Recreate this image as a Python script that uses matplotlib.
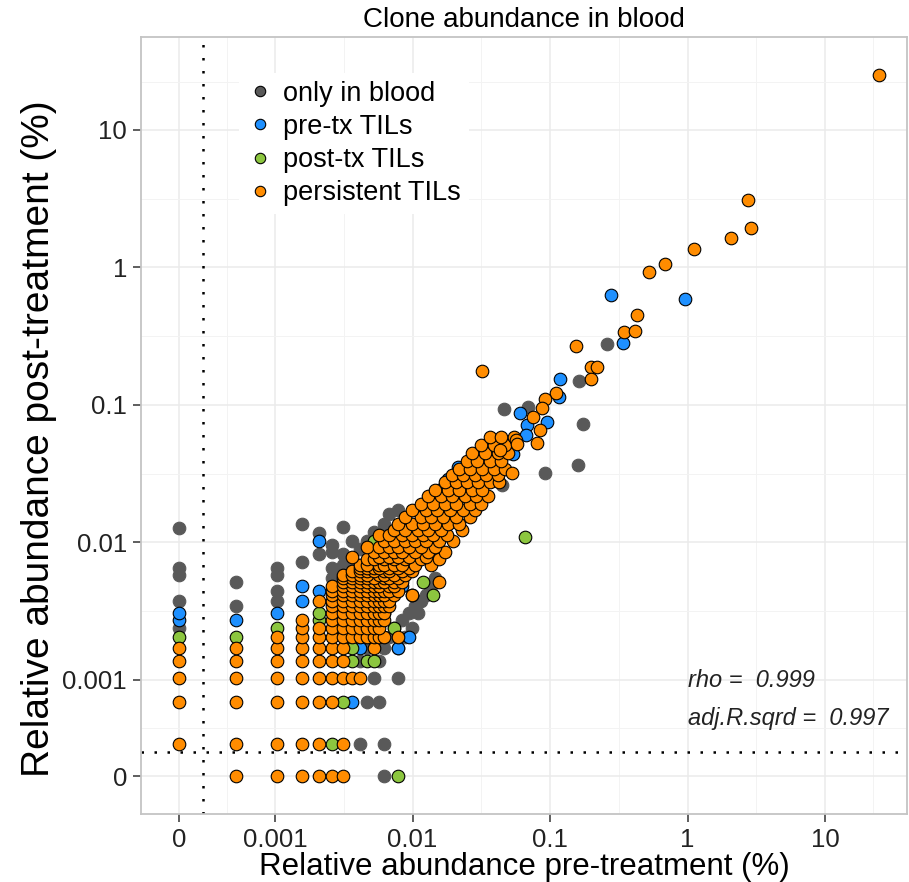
import matplotlib.pyplot as plt
from matplotlib.lines import Line2D
import numpy as np

plt.rcParams['font.family'] = ['Liberation Sans', 'DejaVu Sans']

# read counts -> percent of repertoire
PRE_UNIT = 0.00052     # % per read, pre-treatment blood
POST_UNIT = 0.000343   # % per read, post-treatment blood
ZERO = 0.0002          # where a count of 0 is drawn

groups = ['only in blood', 'pre-tx TILs', 'post-tx TILs', 'persistent TILs']
colors = ['#595959', '#1e90ff', '#8cc63f', '#ff8c00']

# (pre count, post count)
only_blood = [(0, 7), (0, 11), (0, 17), (0, 19), (0, 37), (1, 10), (1, 15),
              (2, 11), (2, 13), (2, 17), (2, 19), (3, 21), (3, 40), (4, 24), (4, 34),
              (5, 25), (5, 19), (5, 16), (6, 38), (6, 20), (6, 14),
              (8, 1), (9, 2), (10, 3), (11, 2), (12, 1), (12, 0), (15, 3),
              (8, 4), (9, 5), (11, 4), (12, 5), (13, 6), (14, 7), (16, 8), (18, 9),
              (20, 10), (22, 11), (17, 6), (19, 7), (24, 12), (26, 14), (28, 16),
              (21, 9), (15, 5), (7, 22), (8, 26), (9, 30), (10, 35), (12, 40),
              (13, 47), (15, 50), (17, 45), (7, 30), (5, 28), (6, 24), (10, 25), (11, 30),
              (501, 810), (312, 438), (89, 273), (132, 281), (332, 212), (309, 107),
              (177, 94), (86, 76)]

pre_tils = [(0, 8), (0, 9), (1, 8), (2, 9), (3, 11), (3, 14), (4, 13), (4, 30),
            (7, 2), (8, 5), (15, 5), (18, 6), (17, 36), (21, 49), (25, 60), (30, 70),
            (35, 85), (45, 95), (20, 30), (13, 22), (11, 25), (40, 55), (60, 90),
            (70, 120), (75, 100), (22, 40), (28, 33), (16, 14), (19, 12),
            (534, 1840), (1842, 1720), (649, 819), (227, 453), (225, 335), (116, 256),
            (182, 220), (131, 209), (129, 176), (98, 145), (103, 128), (55, 128),
            (41, 103), (56, 109)]

post_tils = [(0, 6), (1, 6), (2, 7), (4, 8), (4, 9), (5, 1), (6, 2), (7, 4), (7, 5),
             (9, 4), (10, 4), (14, 7), (15, 0), (11, 13), (10, 30), (37, 72), (36, 71),
             (127, 32), (27, 12), (23, 15), (9, 10), (12, 9), (20, 22), (30, 40)]

# persistent clones in the crowded low corner: (post count, [pre counts])
persistent_rows = [(0, [1, 2, 3, 4, 5, 6]), (1, [0, 1, 2, 3, 4, 6]), (2, [0, 1, 2, 3, 4, 5]),
                   (3, [0, 1, 2, 3, 4, 5, 6, 7, 8]), (4, [0, 1, 2, 3, 4, 5, 6]),
                   (5, [0, 1, 2, 3, 4, 5, 6, 10]), (6, [2, 3, 4, 5, 6, 7, 8, 9, 10, 11, 12, 15]),
                   (7, [3, 4, 5, 6, 7, 8, 9, 10, 11]), (8, [3, 5, 6, 7, 8, 9, 10, 11, 12]),
                   (9, [5, 6, 7, 8, 9, 10, 11, 12]), (10, [5, 6, 7, 8, 9, 10, 11, 12, 13]),
                   (11, [4, 5, 6, 7, 8, 9, 10, 11, 12, 13]), (12, [5, 6, 7, 8, 9, 10, 11, 12, 14, 19]),
                   (13, [5, 6, 7, 8, 9, 10, 11, 12, 13, 15]), (14, [5, 6, 7, 8, 9, 10, 11, 13, 14]),
                   (15, [6, 7, 8, 9, 10, 11, 12, 14, 16, 30]), (16, [6, 7, 8, 9, 10, 12, 13, 15]),
                   (17, [6, 7, 8, 9, 11, 12, 14, 17]), (18, [7, 8, 9, 10, 12, 13, 16, 19]),
                   (19, [8, 9, 10, 11, 13, 15, 18]), (20, [8, 9, 11, 12, 14, 16, 20, 26]),
                   (22, [9, 10, 12, 14, 17, 22, 30]), (23, [7, 11, 13, 15, 18, 24]),
                   (25, [10, 12, 14, 16, 20, 25, 33]), (27, [9, 11, 13, 15, 18, 22, 28]),
                   (30, [12, 14, 17, 20, 24, 30, 38]), (33, [11, 13, 16, 19, 23, 27, 34]),
                   (36, [14, 17, 21, 25, 31, 44]), (40, [15, 19, 23, 28, 35, 42]),
                   (45, [17, 22, 26, 32, 40, 50]), (50, [19, 24, 29, 36, 45, 55]),
                   (56, [22, 27, 33, 40, 50, 60]), (63, [25, 31, 37, 46, 56, 68]),
                   (70, [28, 35, 42, 52, 62]), (80, [33, 40, 48, 58, 70, 82]),
                   (90, [37, 45, 55, 66, 80]), (100, [42, 50, 62, 75, 90]),
                   (115, [48, 57, 70, 85]), (130, [52, 65, 80, 95]), (150, [60, 75, 90]),
                   (170, [70, 85, 105])]

persistent_big = [(47700, 73200), (5320, 9030), (5540, 5620), (3960, 4800), (2140, 3980),
                  (1320, 3090), (1008, 2705), (820, 1316), (663, 985), (802, 1012),
                  (297, 787), (62, 515), (380, 548), (420, 548), (380, 453), (212, 358),
                  (177, 321), (167, 276), (145, 237), (163, 192), (109, 162), (110, 152),
                  (155, 153), (83, 137), (101, 94)]

persistent = [(k, m) for m, ks in persistent_rows for k in ks] + persistent_big


def to_pct(counts, unit):
    c = np.asarray(counts, dtype=float)
    return np.where(c == 0, ZERO, c * unit)


fig = plt.figure(figsize=(9.09, 8.82), dpi=100)
ax = fig.add_axes([141 / 909, 1 - 814 / 882, 766 / 909, 777.3 / 882])

ax.set_xscale('log')
ax.set_yscale('log')
ax.set_xlim(1.06e-4, 39.4)
ax.set_ylim(1.06e-4, 47.7)

major = [ZERO, 0.001, 0.01, 0.1, 1, 10]
minor = [0.000447, 0.00316, 0.0316, 0.316, 3.16, 22.4]
labels = ['0', '0.001', '0.01', '0.1', '1', '10']
ax.set_xticks(major)
ax.set_xticklabels(labels)
ax.set_yticks(major)
ax.set_yticklabels(labels)
ax.set_xticks(minor, minor=True)
ax.set_yticks(minor, minor=True)
ax.tick_params(which='minor', length=0)
ax.tick_params(which='major', direction='out', length=6, width=1.1, color='#333333',
               labelsize=18.5, labelcolor='#222222', pad=4)
ax.grid(which='major', color='#ebebeb', lw=1.1)
ax.grid(which='minor', color='#f3f3f3', lw=0.7)
ax.set_axisbelow(True)
for sp in ax.spines.values():
    sp.set_color('#c4c4c4')
    sp.set_linewidth(1.3)

data = [only_blood, pre_tils, post_tils, persistent]
for pts, col, name in zip(data, colors, groups):
    pre = to_pct([p[0] for p in pts], PRE_UNIT)
    post = to_pct([p[1] for p in pts], POST_UNIT)
    edge = col if name == 'only in blood' else 'black'
    ax.scatter(pre, post, s=82, c=col, edgecolors=edge, linewidths=0.8, zorder=3)

ax.axvline(0.0003, color='black', lw=1.8, ls=(0, (1, 4.2)), zorder=2)
ax.axhline(0.0003, color='black', lw=1.8, ls=(0, (1, 4.2)), zorder=2)

ax.text(1.0, 0.00089, 'rho =  0.999', style='italic', fontsize=17, color='#222222')
ax.text(1.0, 0.00047, 'adj.R.sqrd =  0.997', style='italic', fontsize=17, color='#222222')

ax.set_title('Clone abundance in blood', fontsize=20, pad=7)
ax.set_xlabel('Relative abundance pre-treatment (%)', fontsize=22.5, labelpad=0)
ax.set_ylabel('Relative abundance post-treatment (%)', fontsize=28, labelpad=4)
ax.yaxis.label.set_y(0.483)

handles = [Line2D([], [], ls='', marker='o', markersize=7.5, markerfacecolor=c,
                  markeredgecolor='black', markeredgewidth=0.8) for c in colors]
ax.legend(handles, groups, loc='upper left', bbox_to_anchor=(0.11, 0.971), fontsize=19.5,
          frameon=True, facecolor='white', edgecolor='none', framealpha=1,
          handlelength=1.0, handletextpad=0.35, labelspacing=0.26, borderpad=0.3)

fig.savefig('out.png', dpi=100)
